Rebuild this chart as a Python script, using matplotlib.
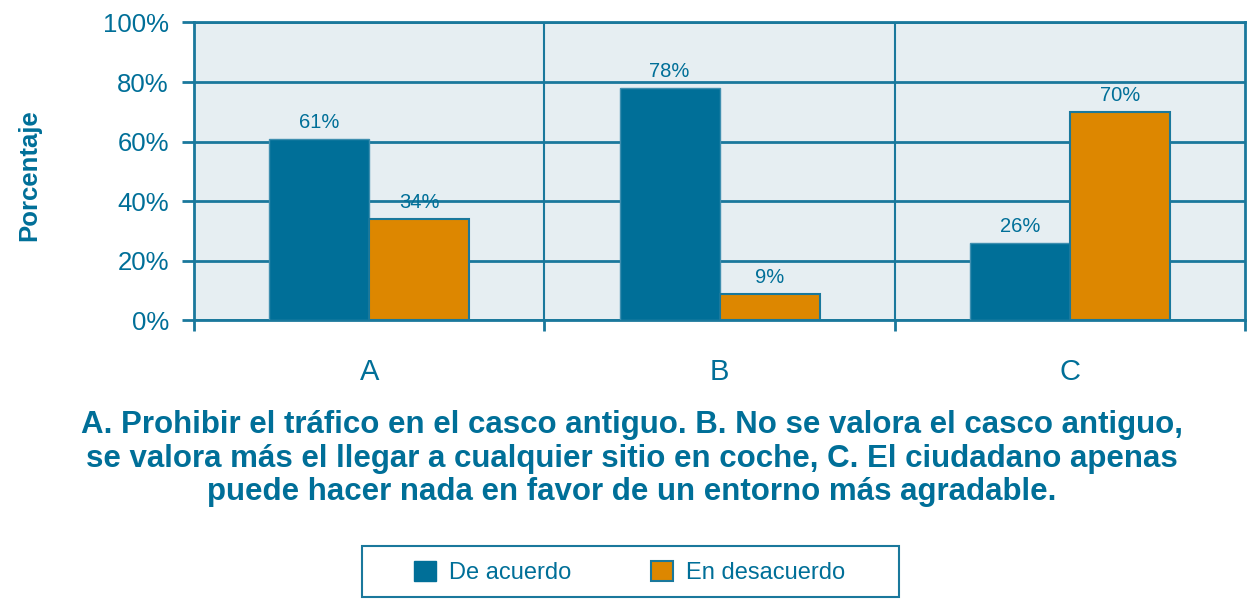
import matplotlib.pyplot as plt
import numpy as np
from matplotlib.patches import Patch, Rectangle

# datos
categorias = ['A', 'B', 'C']
de_acuerdo = [61, 78, 26]
en_desacuerdo = [34, 9, 70]
series = ['De acuerdo', 'En desacuerdo']
yticks = [0, 20, 40, 60, 80, 100]

azul = '#006f98'
naranja = '#dd8700'
fondo = '#e6eef2'
linea = '#1a789c'

plt.rcParams['font.family'] = ['Liberation Sans', 'DejaVu Sans']

fig = plt.figure(figsize=(12.54, 6.03), dpi=100)
ax = fig.add_axes([0.1547, 0.4685, 0.8385, 0.4942])
ax.set_facecolor(fondo)

x = np.arange(len(categorias))
w = 100 / 350
b1 = ax.bar(x - w / 2, de_acuerdo, w, color=azul, edgecolor='#3f8fb0', linewidth=1, zorder=3)
b2 = ax.bar(x + w / 2, en_desacuerdo, w, color=naranja, edgecolor=linea, linewidth=1.5, zorder=3)

for bars, vals in [(b1, de_acuerdo), (b2, en_desacuerdo)]:
    for r, v in zip(bars, vals):
        ax.text(r.get_x() + r.get_width() / 2, v + 2.3, f'{v}%', ha='center', va='bottom',
                fontsize=14.5, color=azul, zorder=4)

ax.set_xlim(-0.5, 2.5)
ax.set_ylim(0, 100)
ax.set_yticks(yticks)
ax.set_yticklabels([f'{t}%' for t in yticks], fontsize=18.5, color=azul)
ax.set_xticks(x)
ax.set_xticklabels(categorias, fontsize=21, color=azul)
ax.set_xticks([-0.5, 0.5, 1.5, 2.5], minor=True)
ax.tick_params(axis='x', which='major', length=0, pad=27)
ax.tick_params(axis='x', which='minor', length=8, width=2, color=linea)
ax.tick_params(axis='y', length=9, width=2, color=linea, pad=9)

ax.grid(axis='y', color=linea, linewidth=2, zorder=1)
for xv in [0.5, 1.5]:
    ax.axvline(xv, color=linea, linewidth=1.5, zorder=1)
for s in ax.spines.values():
    s.set_color(linea)
    s.set_linewidth(2)

fig.text(0.023, 0.709, 'Porcentaje', rotation=90, ha='center', va='center',
         fontsize=18.5, fontweight='bold', color=azul)

titulo = ('A. Prohibir el tráfico en el casco antiguo. B. No se valora el casco antiguo,\n'
          'se valora más el llegar a cualquier sitio en coche, C. El ciudadano apenas\n'
          'puede hacer nada en favor de un entorno más agradable.')
fig.text(0.504, 0.2395, titulo, ha='center', va='center', fontsize=22.5, fontweight='bold',
         color=azul, linespacing=1.15)

# leyenda
handles = [Patch(facecolor=azul, edgecolor=azul), Patch(facecolor=naranja, edgecolor=linea, linewidth=1.5)]
leg = fig.legend(handles, series, loc='center', bbox_to_anchor=(0.502, 0.0506), ncol=2,
                 fontsize=17, frameon=False, columnspacing=3.4,
                 handlelength=0.93, handleheight=0.93, handletextpad=0.55, borderpad=0, borderaxespad=0)
for t in leg.get_texts():
    t.set_color(azul)
fig.patches.append(Rectangle((362 / 1254, 1 - 597 / 603), 537 / 1254, 51 / 603, transform=fig.transFigure,
                             fill=False, edgecolor=linea, linewidth=1.5))

fig.savefig('out.png', dpi=100)
